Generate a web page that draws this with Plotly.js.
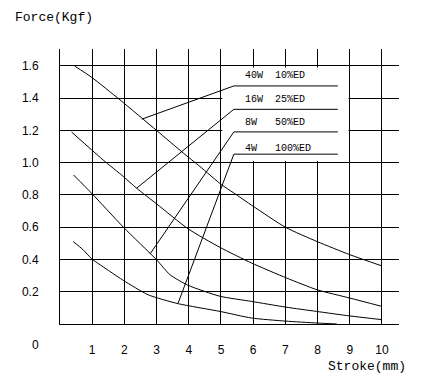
<!DOCTYPE html>
<html>
<head>
<meta charset="utf-8">
<script src="https://cdn.plot.ly/plotly-3.0.1.min.js"></script>
<style>html,body{margin:0;padding:0;background:#fff;}</style>
</head>
<body>
<div id="chart" style="width:421px;height:381px;"></div>
<script>
// ---- data ----
var x40W = [0.45, 0.98, 1.86, 3.0, 3.83, 4.35, 5.02, 5.38, 6.0, 7.0, 8.0, 9.0, 10.0];
var y40W = [1.6, 1.53, 1.39, 1.2, 1.06, 0.976, 0.863, 0.815, 0.73, 0.6, 0.51, 0.43, 0.36];

var x16W = [0.36, 0.98, 1.34, 1.97, 2.38, 3.0, 3.98, 4.97, 5.95, 7.04, 7.99, 9.0, 10.0];
var y16W = [1.19, 1.08, 1.017, 0.914, 0.842, 0.745, 0.59, 0.475, 0.378, 0.285, 0.212, 0.161, 0.109];

var x8W = [0.42, 0.98, 1.97, 3.0, 3.42, 3.98, 4.97, 5.95, 7.0, 7.97, 9.0, 10.0];
var y8W = [0.924, 0.811, 0.6, 0.398, 0.305, 0.24, 0.172, 0.14, 0.105, 0.078, 0.05, 0.027];

var x4W = [0.41, 0.72, 0.98, 1.55, 1.97, 2.74, 3.67, 4.97, 5.95, 7.0, 7.99, 8.6];
var y4W = [0.511, 0.46, 0.405, 0.326, 0.27, 0.181, 0.126, 0.078, 0.037, 0.018, 0.006, 0.0];

var xTickVals = [1, 2, 3, 4, 5, 6, 7, 8, 9, 10];
var xTickText = ['1', '2', '3', '4', '5', '6', '7', '8', '9', '10'];
var yTickVals = [0.2, 0.4, 0.6, 0.8, 1.0, 1.2, 1.4, 1.6];
var yTickText = ['0.2', '0.4', '0.6', '0.8', '1.0', '1.2', '1.4', '1.6'];

var seriesPower = ['40W', '16W', '8W', '4W'];
var seriesDuty = ['10%ED', '25%ED', '50%ED', '100%ED'];
// label positions (data coords) and leader targets on each curve
var labelY = [1.539, 1.395, 1.248, 1.09];
var underlineY = [1.476, 1.331, 1.191, 1.053];
var leaderEndX = [2.54, 2.38, 2.80, 3.67];
var leaderEndY = [1.27, 0.842, 0.435, 0.13];

// ---- build ----
var lineStyle = {color: '#000', width: 1, shape: 'spline', smoothing: 0.6};
var traces = [
  {x: x40W, y: y40W, mode: 'lines', line: lineStyle, hoverinfo: 'skip'},
  {x: x16W, y: y16W, mode: 'lines', line: lineStyle, hoverinfo: 'skip'},
  {x: x8W, y: y8W, mode: 'lines', line: lineStyle, hoverinfo: 'skip'},
  {x: x4W, y: y4W, mode: 'lines', line: lineStyle, hoverinfo: 'skip'}
];

var shapes = [{
  type: 'rect', xref: 'x', yref: 'y', x0: 5.04, x1: 8.965, y0: 1.01, y1: 1.59,
  fillcolor: '#fff', line: {width: 0}, layer: 'above'
}];
var annotations = [];
var ulX0 = 5.40, ulX1 = 8.63, col1 = 5.67, col2 = 6.61;
for (var i = 0; i < seriesPower.length; i++) {
  shapes.push({type: 'line', xref: 'x', yref: 'y', x0: ulX0, x1: ulX1, y0: underlineY[i], y1: underlineY[i],
    line: {color: '#000', width: 1}, layer: 'above'});
  shapes.push({type: 'line', xref: 'x', yref: 'y', x0: ulX0, x1: leaderEndX[i], y0: underlineY[i], y1: leaderEndY[i],
    line: {color: '#000', width: 1}, layer: 'above'});
  annotations.push({xref: 'x', yref: 'y', x: col1, y: labelY[i], text: seriesPower[i], showarrow: false,
    xanchor: 'left', yanchor: 'middle', font: {family: 'Liberation Mono', size: 10, color: '#000'}});
  annotations.push({xref: 'x', yref: 'y', x: col2, y: labelY[i], text: seriesDuty[i], showarrow: false,
    xanchor: 'left', yanchor: 'middle', font: {family: 'Liberation Mono', size: 10, color: '#000'}});
}
annotations.push({xref: 'paper', yref: 'paper', x: -0.0737, y: -0.076, text: '0', showarrow: false,
  xanchor: 'center', yanchor: 'middle', font: {family: 'Liberation Sans', size: 12, color: '#000'}});
annotations.push({xref: 'paper', yref: 'paper', x: 1.027, y: -0.156, text: 'Stroke(mm)', showarrow: false,
  xanchor: 'right', yanchor: 'middle', font: {family: 'Liberation Mono', size: 13, color: '#000'}});

var tickFont = {family: 'Liberation Sans', size: 12, color: '#000'};
var layout = {
  width: 421, height: 381,
  margin: {l: 60, r: 22, t: 49, b: 57, pad: 0},
  paper_bgcolor: '#fff', plot_bgcolor: '#fff',
  showlegend: false,
  title: {text: 'Force(Kgf)', x: 15 / 421, xref: 'container', xanchor: 'left',
    y: 1 - 16 / 381, yref: 'container', yanchor: 'middle',
    font: {family: 'Liberation Mono', size: 13, color: '#000'}},
  xaxis: {range: [0, 10.53], tickmode: 'array', tickvals: xTickVals, ticktext: xTickText,
    showgrid: true, gridcolor: '#000', gridwidth: 1, zeroline: false,
    showline: true, linecolor: '#000', linewidth: 1, ticks: '', tickfont: tickFont,
    ticklabelstandoff: 15, fixedrange: true},
  yaxis: {range: [0, 1.705], tickmode: 'array', tickvals: yTickVals, ticktext: yTickText,
    showgrid: true, gridcolor: '#000', gridwidth: 1, zeroline: false,
    showline: true, linecolor: '#000', linewidth: 1, ticks: '', tickfont: tickFont,
    ticklabelstandoff: 18, fixedrange: true},
  shapes: shapes,
  annotations: annotations
};

Plotly.newPlot('chart', traces, layout, {staticPlot: true, displayModeBar: false});
</script>
</body>
</html>
